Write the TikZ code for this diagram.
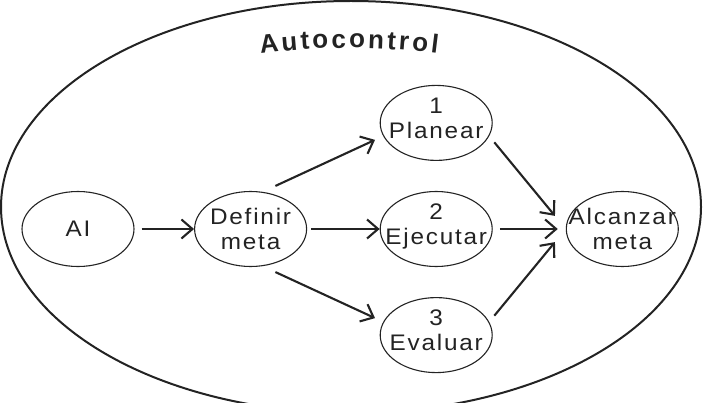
\documentclass[tikz,border=0pt]{standalone}
\usepackage{fontspec}
\usepackage{tikz}
\usetikzlibrary{shapes.geometric, arrows.meta, positioning, decorations.text}
\newfontfamily\lblfont[LetterSpace=8, FakeStretch=1.08]{Liberation Sans}
\newfontfamily\titlefont{Liberation Sans}
\newcommand\titlestyle{\titlefont\bfseries\fontsize{26}{28}\selectfont}
\definecolor{inkgray}{RGB}{35, 35, 35}
\definecolor{textgray}{RGB}{35, 35, 35}

\begin{document}
\begin{tikzpicture}[
  x=1pt, y=1pt,
  blob/.style={ellipse, draw=inkgray, line width=1.1pt, minimum width=112pt, minimum height=75pt, inner xsep=-30pt, inner ysep=0pt, align=center, text=textgray, font=\lblfont\fontsize{22.5}{25}\selectfont},
  numblob/.style={blob, text depth=10pt},
  arr/.style={-{Straight Barb[length=11pt, width=19pt]}, line width=2.1pt, draw=inkgray}
]
  \useasboundingbox (0,0) rectangle (703,402);

  \draw[inkgray, line width=2pt] (351,195) ellipse [x radius=350, y radius=206];

  \path[decorate, decoration={text effects along path, text={Autocontrol}, text align=center,
    text effects/.cd, text along path,
    characters={font=\titlestyle, text=textgray},
    character widths={font=\titlestyle, inner xsep=1.5pt}}]
    (349,-336) ++(100:690) arc[start angle=100, end angle=80, radius=690];

  \node[blob] (ai) at (78,173) {AI};
  \node[blob, right=59.5pt of ai] (defm) {Definir\\meta};
  \node[numblob, right=72.5pt of defm] (ejec) {2\\Ejecutar};
  \node[numblob, above=30pt of ejec] (plan) {1\\Planear};
  \node[numblob, below=30pt of ejec] (eval) {3\\Evaluar};
  \node[blob, right=73pt of ejec] (alc) {Alcanzar\\meta};

  \draw[arr, shorten <=7pt] (ai) -- (defm);
  \draw[arr, shorten <=14pt, shorten >=9pt] (defm.72) -- (plan.194);
  \draw[arr, shorten <=4pt] (defm) -- (ejec);
  \draw[arr, shorten <=14pt, shorten >=9pt] (defm.-72) -- (eval.166);
  \draw[arr, shorten <=8pt, shorten >=17pt] (plan.-14) -- (alc.west);
  \draw[arr, shorten <=7pt, shorten >=8pt] (ejec) -- (alc);
  \draw[arr, shorten <=8pt, shorten >=17pt] (eval.14) -- (alc.west);

\end{tikzpicture}
\end{document}
